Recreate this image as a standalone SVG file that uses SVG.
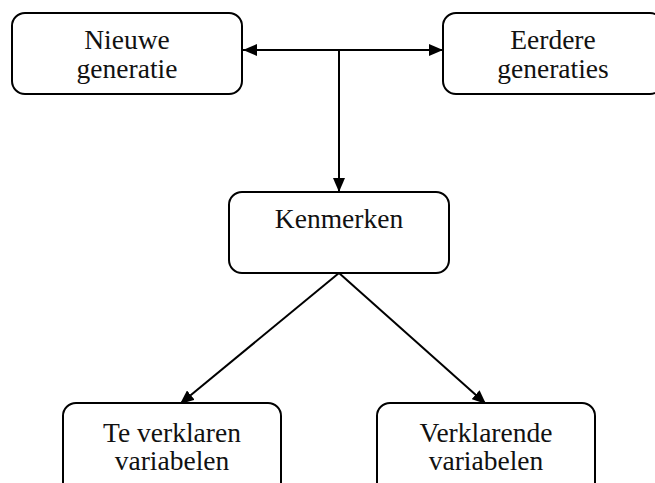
<svg xmlns="http://www.w3.org/2000/svg" width="655" height="483" viewBox="0 0 655 483">
<style>
.box{fill:#fff;stroke:#000;stroke-width:2}
.lbl{font-family:"Liberation Serif","Times New Roman",serif;font-size:27.5px;fill:#111;text-anchor:middle}
.con{stroke:#000;stroke-width:2;fill:none}
</style>
<defs>
<marker id="ah" viewBox="0 0 14 12" refX="14" refY="6" markerWidth="14" markerHeight="12" markerUnits="userSpaceOnUse" orient="auto-start-reverse">
<path d="M0,0 L14,6 L0,12 Z" fill="#000"/>
</marker>
</defs>
<rect width="655" height="483" fill="#fff"/>
<g id="connectors">
<path class="con" d="M243,50 L443,50" marker-start="url(#ah)" marker-end="url(#ah)"/>
<path class="con" d="M339,50 L339,192" marker-end="url(#ah)"/>
<path class="con" d="M339,273 L180,404" marker-end="url(#ah)"/>
<path class="con" d="M339,273 L486,404" marker-end="url(#ah)"/>
</g>
<g id="node-nieuwe">
<rect class="box" x="12" y="13" width="230" height="81" rx="13"/>
<text class="lbl" x="127" y="49">Nieuwe</text>
<text class="lbl" x="127" y="78">generatie</text>
</g>
<g id="node-eerdere">
<rect class="box" x="443" y="13" width="220" height="81" rx="13"/>
<text class="lbl" x="553" y="49">Eerdere</text>
<text class="lbl" x="553" y="78">generaties</text>
</g>
<g id="node-kenmerken">
<rect class="box" x="229" y="192" width="220" height="81" rx="13"/>
<text class="lbl" x="339" y="228">Kenmerken</text>
</g>
<g id="node-teverklaren">
<rect class="box" x="63" y="403" width="218" height="100" rx="13"/>
<text class="lbl" x="172" y="442">Te verklaren</text>
<text class="lbl" x="172" y="470">variabelen</text>
</g>
<g id="node-verklarende">
<rect class="box" x="377" y="403" width="218" height="100" rx="13"/>
<text class="lbl" x="486" y="442">Verklarende</text>
<text class="lbl" x="486" y="470">variabelen</text>
</g>
</svg>
